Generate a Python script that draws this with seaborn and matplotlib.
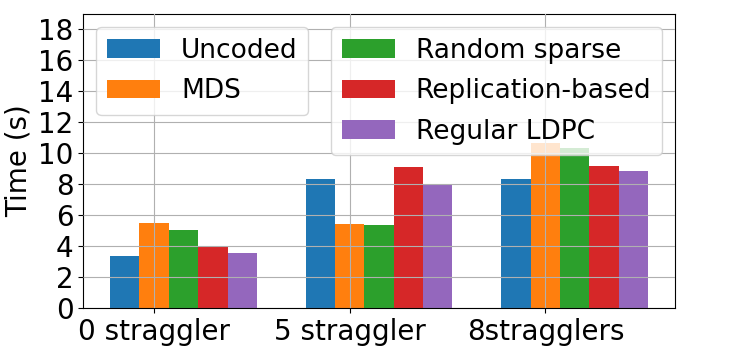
import matplotlib
matplotlib.use('Agg')
import matplotlib.pyplot as plt
import seaborn as sns
import numpy as np
import pandas as pd

scenarios = ['0 straggler', '5 straggler', '8stragglers']
schemes = ['Uncoded', 'MDS', 'Random sparse', 'Replication-based', 'Regular LDPC']
uncoded = [3.35, 8.32, 8.32]
mds = [5.48, 5.42, 10.65]
random_sparse = [5.03, 5.35, 10.32]
replication = [3.94, 9.10, 9.16]
regular_ldpc = [3.55, 7.96, 8.84]

rows = []
for name, vals in zip(schemes, [uncoded, mds, random_sparse, replication, regular_ldpc]):
    for sc, v in zip(scenarios, vals):
        rows.append({'scenario': sc, 'scheme': name, 'time': v})
df = pd.DataFrame(rows)

fig = plt.figure(figsize=(7.5, 3.5), dpi=100)
ax = fig.add_axes([0.111, 0.12, 0.789, 0.84])

colors = sns.color_palette('tab10')[:5]
sns.barplot(data=df, x='scenario', y='time', hue='scheme', hue_order=schemes,
            palette=colors, saturation=1, width=0.75, errorbar=None, ax=ax)

# ticks sit on the second (MDS) bar of each group, like the original plot
pos = np.arange(len(scenarios)) - 0.15
ax.set_xticks(pos)
ax.set_xticklabels(scenarios, fontsize=20)
ax.set_xlim(-0.5125, 2.5125)
ax.set_ylim(0, 19)
ax.set_yticks(range(0, 19, 2))
ax.tick_params(axis='y', labelsize=20)
ax.set_xlabel('')
ax.set_ylabel('Time (s)', fontsize=20)
ax.grid(True, color='#b0b0b0', linewidth=0.8)
ax.set_axisbelow(False)

handles, labels = ax.get_legend_handles_labels()
ax.get_legend().remove()
leg1 = ax.legend(handles[:2], labels[:2], loc='upper left', fontsize=19, labelspacing=0.55)
ax.add_artist(leg1)
ax.legend(handles[2:], labels[2:], loc='upper right', fontsize=19, labelspacing=0.55)

fig.savefig('out.png', dpi=100)
